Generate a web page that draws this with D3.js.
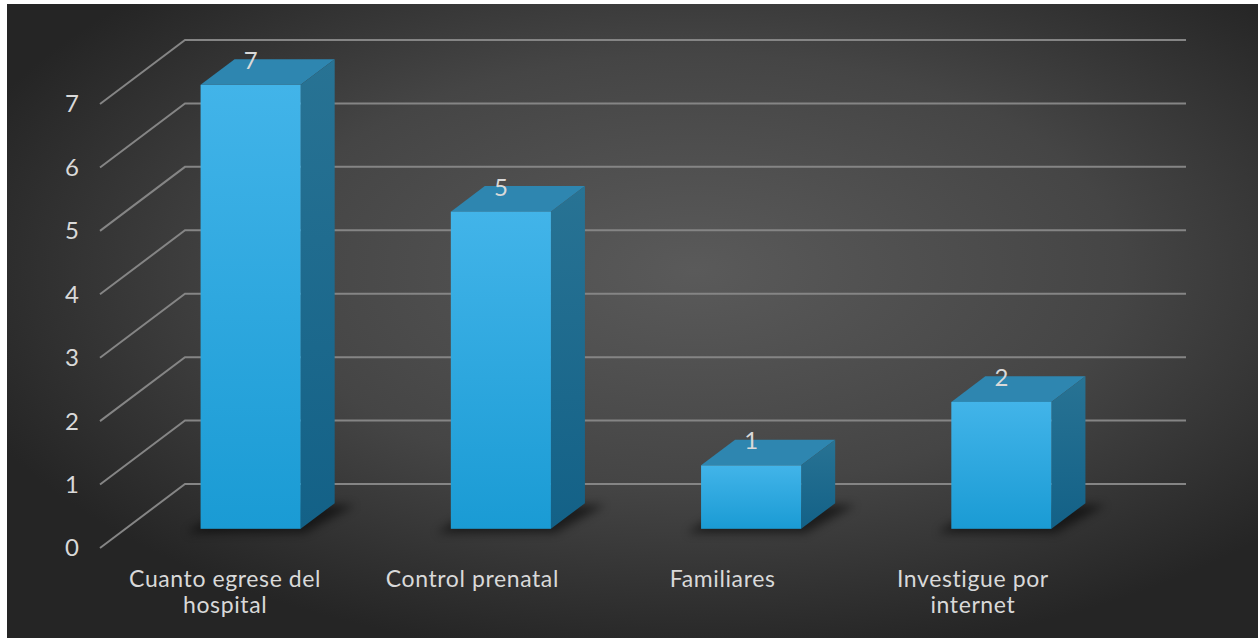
<!DOCTYPE html>
<html>
<head>
<meta charset="utf-8">
<script src="https://cdn.jsdelivr.net/npm/d3@7/dist/d3.min.js"></script>
<style>
  html, body { margin: 0; padding: 0; background: #ffffff; }
  svg { display: block; }
  text { font-family: Lato, "Open Sans", sans-serif; fill: #d9d9d9; }
</style>
</head>
<body>
<svg id="chart" width="1258" height="638"></svg>
<script>
// Data
const categories = ["Cuanto egrese del hospital", "Control prenatal", "Familiares", "Investigue por internet"];
const categoryLines = [["Cuanto egrese del", "hospital"], ["Control prenatal"], ["Familiares"], ["Investigue por", "internet"]];
const values = [7, 5, 1, 2];
const yTicks = [0, 1, 2, 3, 4, 5, 6, 7];

const W = 1258, H = 638;
const svg = d3.select("#chart");
const defs = svg.append("defs");

// Background panel with radial shading
const bg = defs.append("radialGradient").attr("id", "bg")
  .attr("cx", "0.55").attr("cy", "0.42").attr("r", "0.62").attr("fx", "0.55").attr("fy", "0.42");
bg.append("stop").attr("offset", "0").attr("stop-color", "#5a5a5a");
bg.append("stop").attr("offset", "0.55").attr("stop-color", "#454545");
bg.append("stop").attr("offset", "1").attr("stop-color", "#252525");
svg.append("rect").attr("x", 7).attr("y", 4).attr("width", W - 7).attr("height", H - 4).attr("fill", "url(#bg)");

// Bar face gradients
const front = defs.append("linearGradient").attr("id", "front").attr("x1", 0).attr("y1", 0).attr("x2", 0).attr("y2", 1);
front.append("stop").attr("offset", "0").attr("stop-color", "#42b4e9");
front.append("stop").attr("offset", "1").attr("stop-color", "#1a9bd4");
const side = defs.append("linearGradient").attr("id", "side").attr("x1", 0).attr("y1", 0).attr("x2", 0).attr("y2", 1);
side.append("stop").attr("offset", "0").attr("stop-color", "#287394");
side.append("stop").attr("offset", "1").attr("stop-color", "#136187");
const shadowBlur = defs.append("filter").attr("id", "shadow").attr("x", "-50%").attr("y", "-50%").attr("width", "200%").attr("height", "200%");
shadowBlur.append("feGaussianBlur").attr("stdDeviation", 5);

// Scales: front plane of the 3D box
const x = d3.scaleBand().domain(categories).range([100, 1101]).paddingInner(0).paddingOuter(0);
const y = d3.scaleLinear().domain([0, 7]).range([548, 104]);

// Depth projection: t = 0 at front, 1 at back wall
const DX = 85, DY = -64;
const px = (xv, t) => xv + DX * t;
const py = (yv, t) => yv + DY * t;

// Gridlines: diagonal on the side wall, horizontal on the back wall
const grid = svg.append("g").attr("stroke", "#858585").attr("stroke-width", 2).attr("fill", "none");
yTicks.forEach(v => {
  const yf = y(v);
  grid.append("polyline")
    .attr("points", [[x.range()[0], yf], [px(x.range()[0], 1), py(yf, 1)], [px(x.range()[1], 1), py(yf, 1)]].map(p => p.join(",")).join(" "));
});

// Y axis labels
svg.append("g").selectAll("text").data(yTicks).join("text")
  .attr("x", 79).attr("y", d => y(d)).attr("dy", "0.35em")
  .attr("text-anchor", "end").attr("font-size", 24).text(d => d);

// Bars
const t0 = 0.3, t1 = 0.7;
const barW = x.bandwidth() * 0.4;
const bars = svg.append("g");
categories.forEach((c, i) => {
  const v = values[i];
  const xl = x(c) + (x.bandwidth() - barW) / 2 + DX * t0;
  const xr = xl + barW;
  const yb = py(y(0), t0), yt = py(y(v), t0);
  const dx = DX * (t1 - t0), dy = DY * (t1 - t0);
  const g = bars.append("g");
  // soft floor shadow
  g.append("polygon")
    .attr("points", [[xl - 14, yb + 4], [xr + 4, yb + 4], [xr + dx + 20, yb + dy + 2], [xl + dx, yb + dy]].map(p => p.join(",")).join(" "))
    .attr("fill", "#000").attr("opacity", 0.55).attr("filter", "url(#shadow)");
  // top face
  g.append("polygon")
    .attr("points", [[xl, yt], [xr, yt], [xr + dx, yt + dy], [xl + dx, yt + dy]].map(p => p.join(",")).join(" "))
    .attr("fill", "#2e86b0");
  // side face
  g.append("polygon")
    .attr("points", [[xr, yt], [xr + dx, yt + dy], [xr + dx, yb + dy], [xr, yb]].map(p => p.join(",")).join(" "))
    .attr("fill", "url(#side)");
  // front face
  g.append("rect").attr("x", xl).attr("y", yt).attr("width", barW).attr("height", yb - yt)
    .attr("fill", "url(#front)");
  // value label
  g.append("text").attr("x", xl + barW / 2).attr("y", yt - 16)
    .attr("text-anchor", "middle").attr("font-size", 24).text(v);
});

// Category labels
const cat = svg.append("g");
categories.forEach((c, i) => {
  const cx = x(c) + x.bandwidth() / 2 - (i === 0 ? 0 : 3);
  const t = cat.append("text").attr("x", cx).attr("y", 587)
    .attr("text-anchor", "middle").attr("font-size", 23).attr("letter-spacing", 0.6);
  categoryLines[i].forEach((line, j) => {
    t.append("tspan").attr("x", cx).attr("dy", j === 0 ? 0 : 26).text(line);
  });
});
</script>
</body>
</html>
